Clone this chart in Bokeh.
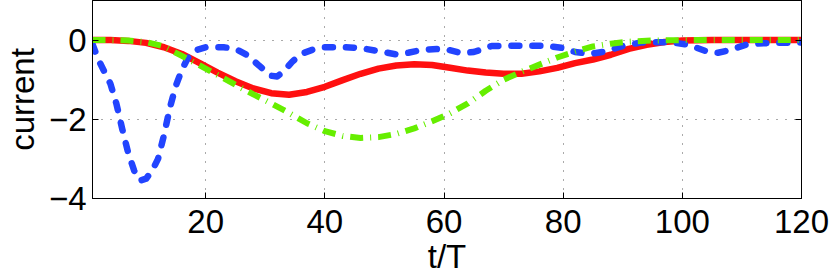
from bokeh.plotting import figure
from bokeh.models import Range1d, FixedTicker, LinearAxis
from bokeh.embed import file_html
from bokeh.resources import INLINE

# ---- data ----
red_x = [1, 4, 7, 10, 13, 16, 19, 22, 25, 28, 31, 34, 37, 40, 43, 46, 49, 52, 55, 58,
         61, 64, 67, 70, 73, 76, 79, 82, 85, 88, 91, 94, 97, 100, 105, 110, 115, 120]
red_y = [0, 0, -0.02, -0.07, -0.18, -0.35, -0.58, -0.82, -1.04, -1.22, -1.34, -1.38,
         -1.31, -1.18, -1.01, -0.85, -0.72, -0.64, -0.61, -0.63, -0.70, -0.77, -0.82,
         -0.85, -0.85, -0.79, -0.70, -0.58, -0.49, -0.37, -0.22, -0.12, -0.05, -0.01,
         0, 0, 0, 0]

blue_x = [1, 2, 3, 4, 5, 6, 7, 8, 9, 10, 11, 12, 13, 14, 15, 16, 17, 18, 20, 23, 25,
          27, 29, 31, 32, 33, 34.5, 36, 38, 40, 43, 46, 49, 52, 54, 56.5, 60, 63, 65,
          68, 72, 77, 80, 82, 84.5, 87, 90, 93, 98, 101, 104, 106, 108, 111, 115, 120]
blue_y = [-0.1, -0.5, -0.8, -1.1, -1.6, -2.25, -2.85, -3.3, -3.55, -3.5, -3.3, -3.0,
          -2.4, -1.7, -1.15, -0.75, -0.45, -0.27, -0.18, -0.18, -0.22, -0.38, -0.65,
          -0.9, -0.92, -0.8, -0.55, -0.35, -0.24, -0.18, -0.18, -0.2, -0.28, -0.36,
          -0.32, -0.24, -0.22, -0.33, -0.3, -0.15, -0.14, -0.14, -0.2, -0.3, -0.35,
          -0.29, -0.15, -0.06, -0.05, -0.12, -0.28, -0.32, -0.25, -0.1, -0.07, -0.06]

green_x = [1, 4, 7, 10, 13, 16, 19, 22, 25, 28, 31, 34, 37, 40, 43, 46, 49, 52, 55, 58,
           61, 64, 67, 70, 73, 76, 79, 82, 85, 88, 91, 95, 100, 110, 120]
green_y = [0, 0, -0.01, -0.05, -0.16, -0.4, -0.64, -0.88, -1.13, -1.37, -1.6, -1.84,
           -2.1, -2.3, -2.42, -2.47, -2.45, -2.37, -2.23, -2.05, -1.85, -1.6, -1.28,
           -1.0, -0.8, -0.62, -0.44, -0.29, -0.16, -0.09, -0.04, -0.01, 0, 0, 0]

x_ticks = [20, 40, 60, 80, 100, 120]
y_ticks = [-4, -2, 0]
y_tick_labels = {-4: "\u22124", -2: "\u22122", 0: "0"}

FONT = "Liberation Sans"
FS = "33px"

p = figure(width=830, height=277, x_range=Range1d(1, 120), y_range=Range1d(-4, 1),
           output_backend="svg", toolbar_location=None,
           min_border_left=88, min_border_right=29, min_border_top=0, min_border_bottom=78)
p.background_fill_color = "white"
p.border_fill_color = "white"
p.outline_line_color = "black"
p.outline_line_width = 1

# main axes
for ax in (p.xaxis[0], p.yaxis[0]):
    ax.major_label_text_font = FONT
    ax.major_label_text_font_size = FS
    ax.major_label_text_color = "black"
    ax.axis_label_text_font = FONT
    ax.axis_label_text_font_size = FS
    ax.axis_label_text_font_style = "normal"
    ax.axis_label_text_color = "black"
    ax.axis_label_text_line_height = 0.8
    ax.major_tick_in = 6
    ax.major_tick_out = 0
    ax.major_tick_line_color = "black"
    ax.minor_tick_line_color = None
    ax.axis_line_color = "black"

p.xaxis.ticker = FixedTicker(ticks=x_ticks)
p.yaxis.ticker = FixedTicker(ticks=y_ticks)
p.yaxis.major_label_overrides = y_tick_labels
p.xaxis.axis_label = "t/T"
p.yaxis.axis_label = "current"
p.xaxis.major_label_standoff = 11
p.yaxis.major_label_standoff = 6
p.xaxis.axis_label_standoff = 2
p.yaxis.axis_label_standoff = 5

# mirrored ticks on top and right
for loc, ticks in (("above", x_ticks), ("right", y_ticks)):
    ax = LinearAxis(ticker=FixedTicker(ticks=ticks), major_label_text_font_size="0px",
                    major_label_text_color=None, major_label_standoff=0,
                    major_tick_in=6, major_tick_out=0, minor_tick_line_color=None,
                    axis_line_color="black", major_tick_line_color="black")
    p.add_layout(ax, loc)

# grid
for g in (p.xgrid[0], p.ygrid[0]):
    g.grid_line_color = "#555555"
    g.grid_line_dash = "1 8"
    g.grid_line_width = 1
p.xgrid.ticker = FixedTicker(ticks=x_ticks)
p.ygrid.ticker = FixedTicker(ticks=y_ticks)

# series
p.line(red_x, red_y, line_color="#ff1010", line_width=6.5)
p.line(blue_x, blue_y, line_color="#2244ff", line_width=6.5, line_dash="8 13",
       line_cap="round", line_join="round")
p.line(green_x, green_y, line_color="#66ee00", line_width=6, line_dash="13 7 1 7")

open("out.html", "w").write(file_html(p, INLINE))
